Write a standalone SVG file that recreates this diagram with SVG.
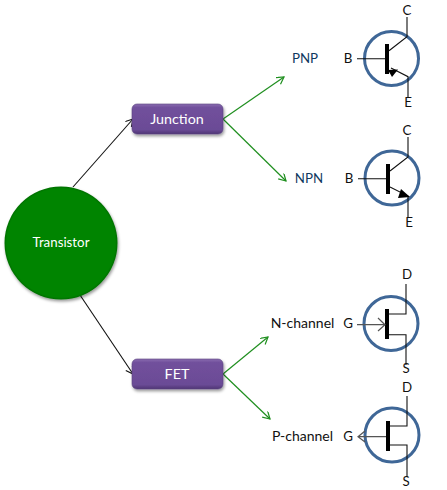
<svg xmlns="http://www.w3.org/2000/svg" width="447" height="490" viewBox="0 0 447 490">
<style>
text{font-family:"Lato","Open Sans","Liberation Sans",sans-serif;font-size:13.300px;text-anchor:middle;fill:#111}
.big{font-size:14.300px}
.blue{fill:#0f3a5f}
.w{fill:#fff}
.ring{fill:none;stroke:#3f6797;stroke-width:3}
.bar{fill:#000}
.w1{fill:none;stroke:#111;stroke-width:1.1}
.gate{fill:none;stroke:#555;stroke-width:1.2}
.box{fill:url(#purple);stroke:#5a4580;stroke-width:.6;filter:url(#sh)}
.k{stroke:#111;stroke-width:1.100;fill:none;marker-end:url(#ak)}
.g{stroke:#1f8f1f;stroke-width:1.200;fill:none;marker-end:url(#ag)}
</style>
<defs>
<linearGradient id="purple" x1="0" y1="0" x2="0" y2="1"><stop offset="0" stop-color="#8a6cb0"/><stop offset=".12" stop-color="#71509c"/><stop offset=".85" stop-color="#6b4b96"/><stop offset="1" stop-color="#4f3575"/></linearGradient>
<radialGradient id="green" cx=".5" cy=".5" r=".5"><stop offset="0" stop-color="#058405"/><stop offset=".96" stop-color="#058405"/><stop offset="1" stop-color="#056e05"/></radialGradient>
<filter id="sh" x="-20%" y="-20%" width="140%" height="150%"><feDropShadow dx="1" dy="2" stdDeviation="1.5" flood-color="#000" flood-opacity=".4"/></filter>
<marker id="ak" markerWidth="10" markerHeight="10" refX="8" refY="4" orient="auto" markerUnits="userSpaceOnUse"><path d="M1 0L8 4L1 8" fill="none" stroke="#111" stroke-width="1.100"/></marker>
<marker id="ag" markerWidth="10" markerHeight="10" refX="8" refY="4" orient="auto" markerUnits="userSpaceOnUse"><path d="M1 0L8 4L1 8" fill="none" stroke="#1f8f1f" stroke-width="1.200"/></marker>
</defs>
<rect width="447" height="490" fill="#fff"/>
<g id="connectors">
<path class="k" d="M73 187L133 119"/>
<path class="k" d="M80 295L133 374"/>
<path class="g" d="M223 119L284 77"/>
<path class="g" d="M223 119L286 181"/>
<path class="g" d="M223 374L268 337"/>
<path class="g" d="M223 374L270 419"/>
</g>
<g id="transistor"><circle cx="61" cy="243" r="56.500" fill="url(#green)" filter="url(#sh)"/><text class="w" x="61" y="247">Transistor</text></g>
<g id="junction"><rect class="box" x="132" y="104" width="91" height="30" rx="5"/><text class="w big" x="177" y="124">Junction</text></g>
<g id="fet"><rect class="box" x="132" y="359" width="91" height="30" rx="5"/><text class="w big" x="177" y="379">FET</text></g>
<g id="pnp-label"><text class="blue" x="305" y="63">PNP</text></g>
<g id="npn-label"><text class="blue" x="309" y="183">NPN</text></g>
<g id="nchannel-label"><text x="302.500" y="328" style="font-size:14px">N-channel</text></g>
<g id="pchannel-label"><text x="302.500" y="441" style="font-size:14px">P-channel</text></g>
<g id="pnp">
<circle class="ring" cx="391.500" cy="58.500" r="27"/>
<rect class="bar" x="385" y="44" width="4" height="30"/>
<path class="w1" d="M357 58.700H385M389 50.700L407 36.700V17M391 68L408 76.700V97"/>
<path class="bar" d="M388 70L398 69.500L392 77Z"/>
<text x="407" y="15">C</text><text x="348" y="63">B</text><text x="408" y="107">E</text>
</g>
<g id="npn">
<circle class="ring" cx="392" cy="178" r="27"/>
<rect class="bar" x="386" y="164" width="4" height="30"/>
<path class="w1" d="M358 178.700H386M390 171L408 157V137M390 187L408 196V217"/>
<path class="bar" d="M410 197L401 189L398 198Z"/>
<text x="407" y="135">C</text><text x="349" y="183">B</text><text x="409" y="227">E</text>
</g>
<g id="nch">
<circle class="ring" cx="391" cy="323.500" r="27"/>
<rect class="bar" x="385" y="309" width="4" height="30"/>
<path class="w1" d="M389 314H406V284M389 334.700H406V365"/>
<path class="gate" d="M357 324.700H385M378 318L385 324.700L378 331"/>
<text x="407" y="279">D</text><text x="348" y="328">G</text><text x="406" y="373">S</text>
</g>
<g id="pch">
<circle class="ring" cx="392" cy="435" r="27"/>
<rect class="bar" x="386" y="421" width="4" height="30"/>
<path class="w1" d="M390 426H407V396M390 445H407V477"/>
<path class="gate" d="M358 436.700H386M365 431L358 436.700L365 442"/>
<text x="407" y="392">D</text><text x="348" y="441">G</text><text x="406" y="486">S</text>
</g>
</svg>
